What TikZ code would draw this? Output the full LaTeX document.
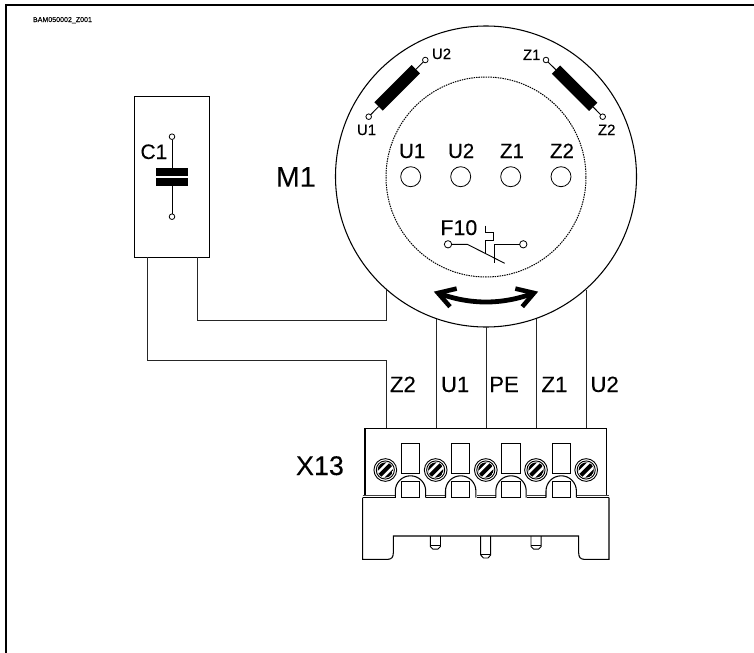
\documentclass[tikz,border=0pt]{standalone}
\usepackage{fontspec}
\setmainfont[FakeBold=0.15]{Liberation Sans}
\newcommand{\fs}[1]{\fontsize{#1}{#1}\selectfont}
\tikzset{
  x=0.75pt,y=-0.75pt,
  every node/.style={inner sep=0pt,outer sep=0pt},
  wire/.style={line width=0.75pt,black!85},
  thin line/.style={line width=0.7pt},
  lbl/.style={anchor=base west,font=\fs{15.4}},
  smalllbl/.style={anchor=base west,font=\fs{11.2}},
  wirelbl/.style={anchor=base west,font=\fs{16.6}},
  term/.style={circle,draw,fill=white,line width=0.6pt,minimum size=4.2pt},
  stud/.style={circle,draw,fill=white,line width=0.6pt,minimum size=15pt},
  coil/.style={rectangle,fill=black,minimum width=39.5pt,minimum height=8.8pt},
  plate/.style={rectangle,fill=black,minimum width=24pt,minimum height=6pt},
  cbox/.style={rectangle,draw,line width=0.8pt,minimum width=56.5pt,minimum height=120.5pt},
}
\begin{document}
\begin{tikzpicture}
\useasboundingbox (0,0) rectangle (754,653);
% frame
\draw[line width=1.5pt] (6,653) -- (6,5) -- (754,5);
\node[anchor=base west,font=\fs{5.3}] (code) at (33,22) {BAM050002\_Z001};
% motor circles
\node[circle,draw,line width=0.8pt,minimum size=225.75pt] (motor) at (486,176.5) {};
\node[circle,draw,dash pattern=on 1.1pt off 0.7pt,line width=0.75pt,minimum size=150pt] (inner) at (486,177) {};
% coils
\node[coil,rotate=45] (coilU) at (397.2,87.8) {};
\node[coil,rotate=-45] (coilZ) at (574.6,88.2) {};
\node[term] (tU2) at (425.3,60) {};
\node[term] (tU1) at (368.7,116.7) {};
\node[term] (tZ1) at (546,60) {};
\node[term] (tZ2) at (602.7,116.7) {};
\draw[thin line] (tU2) -- (coilU) (tU1) -- (coilU) (tZ1) -- (coilZ) (tZ2) -- (coilZ);
\node[smalllbl] (lU2) at (432,59) {U2};
\node[smalllbl] (lU1) at (357,135) {U1};
\node[smalllbl] (lZ1) at (523,60) {Z1};
\node[smalllbl] (lZ2) at (598,135) {Z2};
% terminal board
\node[lbl] (sU1) at (399,158) {U1};
\node[lbl] (sU2) at (448,158) {U2};
\node[lbl] (sZ1) at (500,158) {Z1};
\node[lbl] (sZ2) at (550,158) {Z2};
\node[stud] (cU1) at (410.7,176.7) {};
\node[stud] (cU2) at (460.7,176.7) {};
\node[stud] (cZ1) at (510.7,176.7) {};
\node[stud] (cZ2) at (561,176.7) {};
\node[lbl,font=\fs{21.4}] (M1) at (276,186.7) {M1};
% F10
\node[lbl,font=\fs{16}] (F10) at (440.5,235) {F10};
\node[term,minimum size=5.5pt] (fa) at (448,244.3) {};
\node[term,minimum size=5.5pt] (fb) at (523.3,244.3) {};
\coordinate (fk) at (467.3,244.3);
\coordinate (fe) at (504.7,263.3);
\coordinate (fc) at (494.7,244.3);
\coordinate (fd) at (494.7,262.7);
\draw[thin line] (fa) -- (fk) -- (fe);
\draw[thin line] (fb) -- (fc) -- (fd);
\draw[thin line] (485.7,225.7) -- (485.7,232.3) -- (493.3,232.3) -- (493.3,240) -- (485.7,240) -- (485.7,254);
% rotation arrow
\coordinate (al) at (438,293);
\coordinate (ar) at (534,293);
\draw[line width=3.6pt] (al) .. controls (470,305) and (502,305) .. (ar);
\draw[line width=3.4pt,miter limit=10] (456.7,288.6) -- (al) -- (450,306.7);
\draw[line width=3.4pt,miter limit=10] (515.3,288.6) -- (ar) -- (522.3,306.7);
% capacitor
\node[cbox] (C) at (172,176.8) {};
\node[term] (ca) at (172,136.7) {};
\node[term] (cb) at (172,216.7) {};
\node[plate] (p1) at (172,171.9) {};
\node[plate] (p2) at (172,182) {};
\draw[thin line] (ca) -- (p1) (cb) -- (p2);
\node[lbl,font=\fs{15.7}] (C1) at (140.5,159) {C1};
% terminal block outline
\coordinate (bl1) at (365,428.3);
\coordinate (br1) at (606.7,428.3);
\draw[line width=0.8pt] (365,495) -- (bl1) -- (br1) -- (606.7,495);
% base
\draw[line width=0.8pt] (362.7,497.7) -- (362.7,559.3) -- (388,559.3)
  .. controls (391.5,559.3) and (393.3,557) .. (393.3,553) -- (393.3,536) -- (578.7,536) -- (578.7,553)
  .. controls (578.7,557) and (580.5,559.3) .. (584,559.3) -- (609,559.3) -- (609,497.7);
% pins
\draw[line width=0.7pt] (430.3,536) -- (430.3,546.5) -- (433,549.2) -- (437.8,549.2) -- (440.5,546.5) -- (440.5,536);
\draw[line width=0.7pt] (531,536) -- (531,546.5) -- (533.7,549.2) -- (538.5,549.2) -- (541.2,546.5) -- (541.2,536);
\draw[line width=0.7pt] (480.7,536) -- (480.7,555) -- (483.5,558) -- (488,558) -- (490.7,555) -- (490.7,536);
\draw[line width=0.5pt] (430.3,545.5) -- (440.5,545.5) (531,545.5) -- (541.2,545.5) (480.7,554) -- (490.7,554);
% base top segments
\foreach \a/\b in {362.7/395.5,426/445.5,476.5/496,527/546,577/609}{
  \draw[line width=0.7pt,black!75] (\a,495) -- (\b,495);
  \draw[line width=0.8pt] (\a,497.7) -- (\b,497.7);
}
% windows and arches
\foreach \i/\cx in {1/410.5,2/460.7,3/511,4/561.2}{
  \node[rectangle,draw,line width=0.7pt,minimum width=13.8pt,minimum height=22.5pt] (win\i) at (\cx,458.3) {};
  \node[rectangle,draw,line width=0.7pt,minimum width=13.8pt,minimum height=12.4pt] (low\i) at (\cx,489.6) {};
  \draw[line width=0.8pt] (\cx-15.2,497.7) -- (\cx-15.2,491) arc[start angle=180,end angle=0,radius=11.4pt] -- (\cx+15.2,497.7);
}
% screws
\foreach \i/\cx in {1/385.3,2/435.7,3/485.8,4/536,5/586.2}{
  \node[circle,draw,line width=0.7pt,minimum size=17pt] (sc\i) at (\cx,470) {};
  \begin{scope}[shift={(\cx,470)}]
    \clip (0,0) circle[radius=5.7pt];
    \fill[black] (0,0) circle[radius=5.7pt];
    \fill[white] (-14,7.5) -- (7.5,-14) -- (14,-7.5) -- (-7.5,14) -- cycle;
    \draw[line width=3pt] (-10,10) -- (10,-10);
  \end{scope}
  \draw[line width=0.7pt] (\cx,470) circle[radius=6.8pt];
}
% wires
\node[wirelbl] (wZ2) at (390,392) {Z2};
\node[wirelbl] (wU1) at (441,392) {U1};
\node[wirelbl] (wPE) at (489.3,392) {PE};
\node[wirelbl] (wZ1) at (541.5,392) {Z1};
\node[wirelbl] (wU2) at (590.5,392) {U2};
\node[lbl,font=\fs{20.2}] (X13) at (296,475) {X13};
\coordinate (m1) at (386,289.5);
\coordinate (m2) at (436,318.5);
\coordinate (m3) at (486,327);
\coordinate (m4) at (536,318.5);
\coordinate (m5) at (586,289.5);
\coordinate (capL) at (147,257);
\coordinate (capR) at (197,257);
\draw[wire] (capR) -- (197,320) -- (386,320) -- (m1);
\draw[wire] (capL) -- (147,360) -- (386,360) -- (386,428.3);
\draw[wire] (m2) -- (436,428.3);
\draw[wire] (m3) -- (486,428.3);
\draw[wire] (m4) -- (536,428.3);
\draw[wire] (m5) -- (586,428.3);
\end{tikzpicture}
\end{document}
